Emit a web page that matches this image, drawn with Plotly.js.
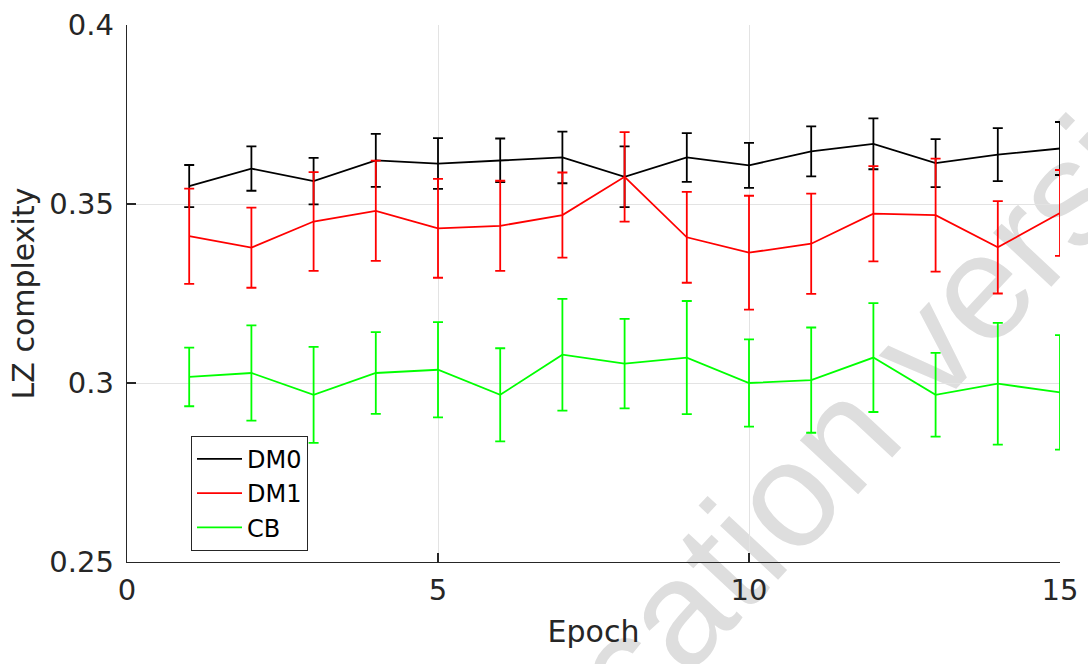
<!DOCTYPE html>
<html>
<head>
<meta charset="utf-8">
<script src="https://cdn.plot.ly/plotly-3.0.1.min.js"></script>
<style>html,body{margin:0;padding:0;background:#fff;}#chart{width:1088px;height:664px;}</style>
</head>
<body>
<div id="chart"></div>
<script>
const epochs = [1,2,3,4,5,6,7,8,9,10,11,12,13,14,15];
const dm0Mean = [0.3550,0.3599,0.3564,0.3622,0.3613,0.3622,0.3630,0.3576,0.3630,0.3608,0.3647,0.3668,0.3614,0.3638,0.3655];
const dm0Err  = [0.0059,0.0062,0.0065,0.0074,0.0071,0.0061,0.0072,0.0085,0.0068,0.0063,0.0070,0.0071,0.0067,0.0074,0.0074];
const dm1Mean = [0.3410,0.3378,0.3451,0.3481,0.3432,0.3439,0.3469,0.3576,0.3407,0.3364,0.3389,0.3473,0.3469,0.3379,0.3475];
const dm1Err  = [0.0133,0.0112,0.0138,0.0140,0.0138,0.0126,0.0119,0.0125,0.0127,0.0159,0.0140,0.0133,0.0158,0.0129,0.0120];
const cbMean  = [0.3017,0.3028,0.2967,0.3028,0.3037,0.2967,0.3079,0.3054,0.3071,0.3000,0.3008,0.3071,0.2967,0.2998,0.2974];
const cbErr   = [0.0082,0.0133,0.0134,0.0114,0.0133,0.0130,0.0156,0.0125,0.0158,0.0122,0.0147,0.0152,0.0117,0.0170,0.0160];
const seriesNames = ['DM0','DM1','CB'];
const xTicks = [0,5,10,15];
const yTicks = [0.25,0.3,0.35,0.4];
const yTickText = ['0.25','0.3','0.35','0.4'];
const watermarkText = 'publication version';

const FONT = 'DejaVu Sans, Verdana, sans-serif';
function mk(name, y, e, color){
  return {
    x: epochs, y: y, name: name, type: 'scatter', mode: 'lines',
    line: {color: color, width: 1.8},
    error_y: {type: 'data', array: e, visible: true, color: color, thickness: 1.8, width: 5}
  };
}
const data = [
  mk(seriesNames[0], dm0Mean, dm0Err, '#000000'),
  mk(seriesNames[1], dm1Mean, dm1Err, '#ff0000'),
  mk(seriesNames[2], cbMean, cbErr, '#00ff00')
];
const tickFont = {family: FONT, size: 29, color: '#262626'};
const layout = {
  width: 1088, height: 664,
  margin: {l: 127, r: 28, t: 25, b: 102},
  paper_bgcolor: '#ffffff', plot_bgcolor: '#ffffff',
  showlegend: true,
  legend: {x: 0.0686, y: 0.235, xanchor: 'left', yanchor: 'top',
    bgcolor: '#ffffff', bordercolor: '#262626', borderwidth: 1,
    font: {family: FONT, size: 24, color: '#000000'},
    itemwidth: 45, tracegroupgap: 0},
  xaxis: {range: [0, 15], tickvals: xTicks, ticktext: xTicks.map(String),
    showgrid: true, gridcolor: '#e3e3e3', gridwidth: 1, zeroline: false,
    showline: true, linecolor: '#262626', linewidth: 1.3,
    ticks: 'inside', ticklen: 9, tickcolor: '#262626', tickwidth: 1.3,
    tickfont: tickFont, ticklabelstandoff: 2,
    title: {text: 'Epoch', font: {family: FONT, size: 30, color: '#262626'}, standoff: 15}},
  yaxis: {range: [0.25, 0.4], tickvals: yTicks, ticktext: yTickText,
    showgrid: true, gridcolor: '#e3e3e3', gridwidth: 1, zeroline: false,
    showline: true, linecolor: '#262626', linewidth: 1.3,
    ticks: 'inside', ticklen: 9, tickcolor: '#262626', tickwidth: 1.3,
    tickfont: tickFont, ticklabelstandoff: 6,
    title: {text: 'LZ complexity', font: {family: FONT, size: 30, color: '#262626'}, standoff: 5}},
  shapes: [{
    type: 'rect', xref: 'paper', yref: 'paper', layer: 'below',
    x0: 0.705, x1: 0.725, y0: 0.169, y1: 0.189,
    line: {width: 0}, fillcolor: 'rgba(0,0,0,0)',
    label: {text: watermarkText, textangle: -47, textposition: 'middle center',
      font: {family: 'Liberation Sans, Arial, sans-serif', size: 150, color: '#dedede'}}
  }]
};
Plotly.newPlot('chart', data, layout, {displayModeBar: false, staticPlot: true});
</script>
</body>
</html>
